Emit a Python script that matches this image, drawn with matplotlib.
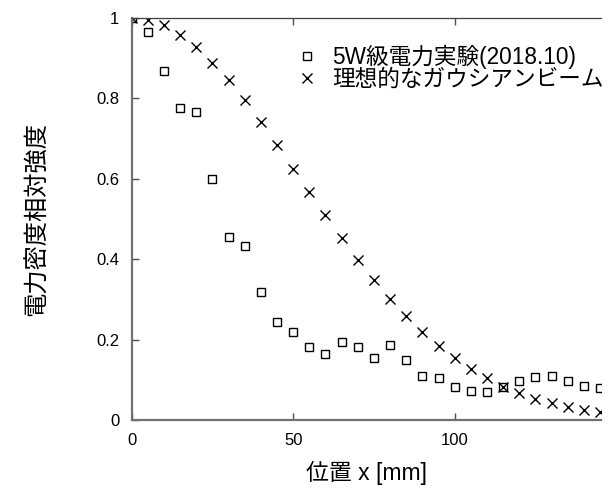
import matplotlib

matplotlib.use("Agg")
import matplotlib.pyplot as plt

plt.rcParams["font.family"] = ["Liberation Sans", "Noto Sans CJK JP"]

# position [mm]
pos = [0, 5, 10, 15, 20, 25, 30, 35, 40, 45, 50, 55, 60, 65, 70, 75,
       80, 85, 90, 95, 100, 105, 110, 115, 120, 125, 130, 135, 140, 145]

# measured (5W class, 2018.10)
measured = [1.0, 0.964, 0.868, 0.775, 0.765, 0.599, 0.454, 0.432, 0.317, 0.244,
            0.218, 0.181, 0.163, 0.193, 0.181, 0.153, 0.187, 0.149, 0.109, 0.104,
            0.081, 0.073, 0.069, 0.083, 0.098, 0.106, 0.110, 0.096, 0.085, 0.080]

# ideal gaussian beam
gauss = [1.0, 0.995, 0.981, 0.958, 0.927, 0.888, 0.844, 0.795, 0.740, 0.684,
         0.625, 0.567, 0.510, 0.453, 0.399, 0.348, 0.302, 0.259, 0.220, 0.184,
         0.155, 0.128, 0.104, 0.083, 0.068, 0.053, 0.042, 0.033, 0.025, 0.019]

xticks = [0, 50, 100]
yticks = [0, 0.2, 0.4, 0.6, 0.8, 1.0]
ytick_labels = ["0", "0.2", "0.4", "0.6", "0.8", "1"]

fig = plt.figure(figsize=(6.11, 4.88), dpi=100)
ax = fig.add_axes([0.2155, 0.1393, 0.7681, 0.8244])

ax.plot(pos, measured, linestyle="none", marker="s", markersize=6,
        markerfacecolor="none", markeredgecolor="black", markeredgewidth=1,
        label="5W級電力実験(2018.10)")
ax.plot(pos, gauss, linestyle="none", marker="x", markersize=6.5,
        color="black", markeredgewidth=1, label="理想的なガウシアンビーム")

ax.set_xlim(0, 145.3)
ax.set_ylim(0, 1)
ax.set_xticks(xticks)
ax.set_xticklabels([str(v) for v in xticks])
ax.set_yticks(yticks)
ax.set_yticklabels(ytick_labels)

ax.spines["right"].set_visible(False)
for side in ("left", "bottom"):
    ax.spines[side].set_color("#707070")
    ax.spines[side].set_linewidth(1.6)
ax.spines["top"].set_color("#404040")
ax.spines["top"].set_linewidth(0.9)

ax.tick_params(direction="in", length=5, width=1, color="#505050",
               labelsize=12, top=True, right=False, pad=9)

ax.set_xlabel("位置 x [mm]", fontsize=16.5, labelpad=10)
ax.set_ylabel("電力密度相対強度", fontsize=17.5, labelpad=34)

ax.legend(loc="upper left", bbox_to_anchor=(0.33, 0.955), frameon=False,
          fontsize=16.3, handlelength=1.0, handletextpad=0.6,
          labelspacing=-0.05, borderaxespad=0)

fig.savefig("out.png", dpi=100)
